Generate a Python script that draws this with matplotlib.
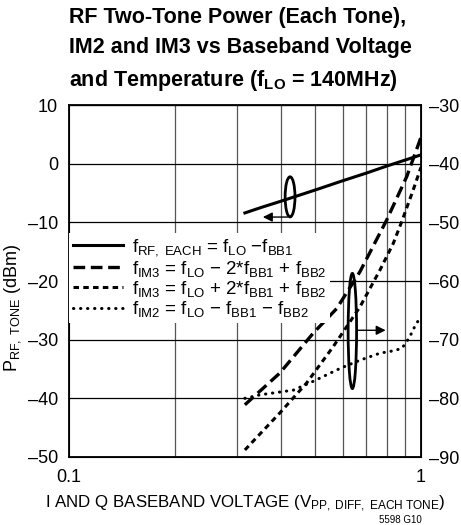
import matplotlib
matplotlib.use("Agg")
import matplotlib.pyplot as plt
from matplotlib.lines import Line2D
from matplotlib.patches import Ellipse
from matplotlib.ticker import NullFormatter, FixedLocator, FuncFormatter

plt.rcParams['font.family'] = ['Liberation Sans', 'DejaVu Sans']
plt.rcParams['mathtext.fontset'] = 'custom'
plt.rcParams['mathtext.rm'] = 'Liberation Sans'
plt.rcParams['mathtext.it'] = 'Liberation Sans'
plt.rcParams['mathtext.bf'] = 'Liberation Sans:bold'

# baseband voltage (Vpp) and levels
x_rf = [0.316, 0.35, 0.4, 0.5, 0.6, 0.7, 0.8, 0.9, 1.0]
p_rf = [-8.4, -7.5, -6.4, -4.5, -2.9, -1.6, -0.4, 0.6, 1.5]

x_im3_lo = [0.316, 0.397, 0.494, 0.576, 0.671, 0.799, 0.911, 1.0]
p_im3_lo = [-81.1, -75.7, -68.9, -64.7, -58.4, -49.6, -42.2, -35.5]

x_im3_hi = [0.316, 0.397, 0.473, 0.563, 0.671, 0.765, 0.834, 0.88, 0.95, 1.0]
p_im3_hi = [-88.8, -82.5, -77.4, -71.2, -64.4, -58.1, -53.6, -50.0, -44.5, -40.6]

x_im2 = [0.316, 0.349, 0.434, 0.494, 0.589, 0.671, 0.765, 0.834, 0.881, 0.905, 0.931, 0.961, 1.0]
p_im2 = [-80.0, -79.4, -78.6, -77.1, -74.9, -73.5, -72.3, -71.9, -71.5, -70.6, -69.4, -67.7, -66.0]

labels = [r'$f_{RF,\ EACH}$ = $f_{LO}$ $-f_{BB1}$',
          r'$f_{IM3}$ = $f_{LO}$ $-$ 2*$f_{BB1}$ + $f_{BB2}$',
          r'$f_{IM3}$ = $f_{LO}$ + 2*$f_{BB1}$ + $f_{BB2}$',
          r'$f_{IM2}$ = $f_{LO}$ $-$ $f_{BB1}$ $-$ $f_{BB2}$']

dash_fmt = FuncFormatter(lambda v, pos: '%d' % v if v >= 0 else '\u2013%d' % -v)

fig = plt.figure(figsize=(4.61, 5.25), dpi=100)
ax = fig.add_axes([69/461, 1-457/525, 352/461, 352/525])
ax.set_xscale('log')
ax.set_xlim(0.1, 1)
ax.set_ylim(-50, 10)
ax.set_yticks(range(-50, 11, 10))
ax.yaxis.set_major_formatter(dash_fmt)
ax.xaxis.set_major_locator(FixedLocator([0.1, 1]))
ax.xaxis.set_minor_locator(FixedLocator([0.2, 0.3, 0.4, 0.5, 0.6, 0.7, 0.8, 0.9]))
ax.xaxis.set_major_formatter(plt.FixedFormatter(['0.1', '1']))
ax.xaxis.set_minor_formatter(NullFormatter())
ax.grid(True, axis='y', color='black', lw=0.9)
ax.grid(True, axis='x', which='minor', color='#555555', lw=0.9)
ax.tick_params(which='both', length=0, labelsize=13)
ax.tick_params(axis='y', pad=8)
ax.tick_params(axis='x', pad=9)
for s in ax.spines.values():
    s.set_linewidth(1.3)

ax2 = ax.twinx()
ax2.set_ylim(-90, -30)
ax2.set_yticks(range(-90, -29, 10))
ax2.yaxis.set_major_formatter(dash_fmt)
ax2.tick_params(length=0, labelsize=13, pad=6)

dash_long = (0, (3.5, 1.7))
dash_short = (0, (1.8, 1.4))
dots = (0, (0.1, 2.2))

ax.plot(x_rf, p_rf, color='black', lw=2.2)
ax2.plot(x_im3_lo, p_im3_lo, color='black', lw=2.4, ls=dash_long)
ax2.plot(x_im3_hi, p_im3_hi, color='black', lw=2.2, ls=dash_short)
ax2.plot(x_im2, p_im2, color='black', lw=2.2, ls=dots, dash_capstyle='round')

# ellipses + arrows pointing to the axis each group belongs to
ax2.add_patch(Ellipse((0.628, 0.739), 0.028, 0.114, transform=ax.transAxes,
                      fill=False, lw=2, ec='black', zorder=5))
ax2.add_patch(Ellipse((0.805, 0.358), 0.024, 0.327, transform=ax.transAxes,
                      fill=False, lw=2, ec='black', zorder=5))
ax.annotate('', xy=(0.349, -9.1), xytext=(0.425, -9.1),
            arrowprops=dict(arrowstyle='-|>', color='black', lw=1, mutation_scale=14))
ax.annotate('', xy=(0.808, -28.4), xytext=(0.645, -28.4),
            arrowprops=dict(arrowstyle='-|>', color='black', lw=1, mutation_scale=14))

handles = [Line2D([], [], color='black', lw=2.2),
           Line2D([], [], color='black', lw=2.4, ls=dash_long),
           Line2D([], [], color='black', lw=2.2, ls=dash_short),
           Line2D([], [], color='black', lw=2.2, ls=dots, dash_capstyle='round')]
leg = ax2.legend(handles, labels, loc='upper left', bbox_to_anchor=(0.0, 0.635),
                 frameon=True, facecolor='white', edgecolor='none', framealpha=1,
                 fancybox=False, fontsize=13.5, handlelength=2.7, handletextpad=0.45,
                 labelspacing=0.02, borderpad=0.2, borderaxespad=0)

ax.set_ylabel(r'$P_{RF,\ TONE}$ (dBm)', fontsize=13)
ax.yaxis.set_label_coords(-0.13, 0.423)
ax.set_xlabel(r'I AND Q BASEBAND VOLTAGE ($V_{PP,\ DIFF,\ EACH\ TONE}$)', fontsize=12.2, labelpad=5)

fig.text(69/461, 1-7/525, 'RF Two-Tone Power (Each Tone),\nIM2 and IM3 vs Baseband Voltage\n'
         r'and Temperature ($\mathbf{f_{LO}}$ = 140MHz)',
         ha='left', va='top', fontsize=15.5, fontweight='bold', linespacing=1.55)
fig.text(422/461, 1-520/525, '5598 G10', ha='right', va='center', fontsize=7)

fig.savefig('out.png', dpi=100)
